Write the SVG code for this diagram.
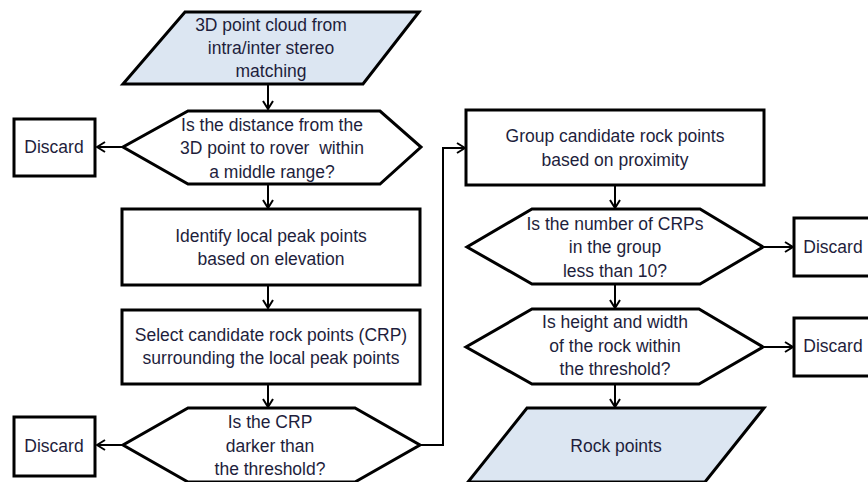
<svg xmlns="http://www.w3.org/2000/svg" width="868" height="482" viewBox="0 0 868 482">
<defs>
<marker id="arr" viewBox="0 0 10 12" refX="9" refY="6" markerWidth="10" markerHeight="12" markerUnits="userSpaceOnUse" orient="auto">
<path d="M1,1 L9,6 L1,11" fill="none" stroke="#000" stroke-width="2"/>
</marker>
<style>
.shape{stroke:#000;stroke-width:3;fill:#fff;stroke-linejoin:miter}
.io{fill:#dce6f2}
.t{font-family:"Liberation Sans",Arial,sans-serif;font-size:17.5px;fill:#1e1e3c;text-anchor:middle;white-space:pre}
.c{fill:none;stroke:#000;stroke-width:2}
</style>
</defs>
<rect width="868" height="482" fill="#fff"/>
<g id="connectors">
<line class="c" x1="268" y1="85" x2="268" y2="109" marker-end="url(#arr)"/>
<line class="c" x1="123" y1="147" x2="97" y2="147" marker-end="url(#arr)"/>
<line class="c" x1="268" y1="185" x2="268" y2="208" marker-end="url(#arr)"/>
<line class="c" x1="268" y1="285" x2="268" y2="308" marker-end="url(#arr)"/>
<line class="c" x1="268" y1="384" x2="268" y2="407" marker-end="url(#arr)"/>
<line class="c" x1="123" y1="445" x2="97" y2="445" marker-end="url(#arr)"/>
<polyline class="c" points="420,445 443,445 443,148 465,148" marker-end="url(#arr)"/>
<line class="c" x1="615" y1="185" x2="615" y2="208" marker-end="url(#arr)"/>
<line class="c" x1="763" y1="247" x2="793" y2="247" marker-end="url(#arr)"/>
<line class="c" x1="615" y1="284" x2="615" y2="308" marker-end="url(#arr)"/>
<line class="c" x1="763" y1="347" x2="793" y2="347" marker-end="url(#arr)"/>
<line class="c" x1="615" y1="384" x2="615" y2="407" marker-end="url(#arr)"/>
</g>
<g id="n_input">
<polygon class="shape io" points="185,12 419,12 363,84 123,84"/>
<text class="t" x="271" y="31">3D point cloud from</text>
<text class="t" x="271" y="54">intra/inter stereo</text>
<text class="t" x="271" y="77">matching</text>
</g>
<g id="n_dist">
<polygon class="shape" points="188,111 380,111 421,147 380,184 188,184 123,147"/>
<text class="t" x="272" y="131">Is the distance from the</text>
<text class="t" x="272" y="154">3D point to rover  within</text>
<text class="t" x="272" y="178">a middle range?</text>
</g>
<g id="n_discard1">
<rect class="shape" x="14" y="119" width="81" height="57"/>
<text class="t" x="54" y="153">Discard</text>
</g>
<g id="n_identify">
<rect class="shape" x="122" y="209" width="298" height="76"/>
<text class="t" x="271" y="242">Identify local peak points</text>
<text class="t" x="271" y="265">based on elevation</text>
</g>
<g id="n_select">
<rect class="shape" x="122" y="310" width="298" height="74"/>
<text class="t" x="271" y="341">Select candidate rock points (CRP)</text>
<text class="t" x="271" y="364">surrounding the local peak points</text>
</g>
<g id="n_dark">
<polygon class="shape" points="188,408 355,408 420,445 355,482 188,482 123,445"/>
<text class="t" x="270" y="428">Is the CRP</text>
<text class="t" x="270" y="452">darker than</text>
<text class="t" x="270" y="475">the threshold?</text>
</g>
<g id="n_discard2">
<rect class="shape" x="14" y="417" width="81" height="59"/>
<text class="t" x="54" y="452">Discard</text>
</g>
<g id="n_group">
<rect class="shape" x="466" y="110" width="298" height="75"/>
<text class="t" x="615" y="142">Group candidate rock points</text>
<text class="t" x="615" y="166">based on proximity</text>
</g>
<g id="n_count">
<polygon class="shape" points="532,209 700,209 763,247 700,284 532,284 467,247"/>
<text class="t" x="615" y="230">Is the number of CRPs</text>
<text class="t" x="615" y="253">in the group</text>
<text class="t" x="615" y="277">less than 10?</text>
</g>
<g id="n_discard3">
<rect class="shape" x="794" y="218" width="80" height="58"/>
<text class="t" x="833" y="253">Discard</text>
</g>
<g id="n_size">
<polygon class="shape" points="532,309 699,309 763,347 699,384 532,384 466,347"/>
<text class="t" x="615" y="328">Is height and width</text>
<text class="t" x="615" y="352">of the rock within</text>
<text class="t" x="615" y="375">the threshold?</text>
</g>
<g id="n_discard4">
<rect class="shape" x="794" y="318" width="80" height="58"/>
<text class="t" x="833" y="352">Discard</text>
</g>
<g id="n_output">
<polygon class="shape io" points="527,408 764,408 705,482 468,482"/>
<text class="t" x="616" y="452">Rock points</text>
</g>
</svg>
